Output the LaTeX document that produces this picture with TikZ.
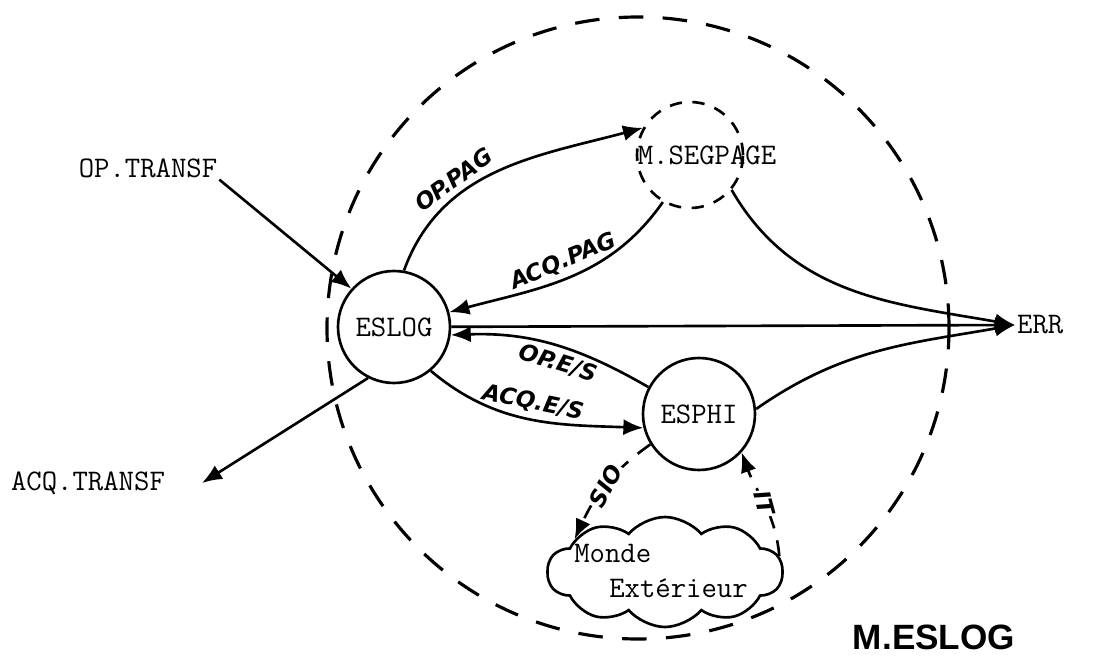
\documentclass[tikz,border=0pt]{standalone}
\usepackage{fontspec}
\newfontfamily\handfont{DejaVu Sans}
\newfontfamily\titlefont{Liberation Sans}
\newcommand{\typefont}{\ttfamily\fontsize{17}{19.5}\selectfont}
\usetikzlibrary{arrows.meta, shapes.symbols, positioning, calc}

\begin{document}
\begin{tikzpicture}[
    proc/.style={draw, circle, line width=1.5pt, minimum size=2.24cm, inner sep=0pt, font=\typefont},
    txt/.style={font=\typefont, inner sep=1pt},
    arrow/.style={-{Latex[length=4mm,width=3.2mm]}, line width=1.5pt},
    dasharrow/.style={arrow, dash pattern=on 9pt off 7pt},
    lbl/.style={font=\handfont\bfseries\itshape\fontsize{13}{15}\selectfont, inner sep=3pt}
]
    \useasboundingbox (0,0) rectangle (21.88,13.24);
    % module M.ESLOG
    \draw[line width=1.8pt, dash pattern=on 14pt off 11pt] (12.76,6.68) circle (6.22);
    \node[font=\titlefont\bfseries\fontsize{20}{23}\selectfont] (meslog) at (18.68,0.5) {M.ESLOG};

    \node[proc] (eslog) at (7.88,6.7) {ESLOG};
    \node[proc] (esphi) at (13.98,4.96) {ESPHI};
    \node[proc, minimum size=2.12cm, dash pattern=on 7pt off 6pt,
          label={[font=\typefont, xshift=0.34cm]center:M.SEGPAGE}] (segpage) at (13.8,10.14) {};
    \node[cloud, draw, line width=1.5pt, cloud puffs=10, cloud puff arc=100, cloud ignores aspect,
          minimum width=4.7cm, minimum height=2.2cm, inner sep=0pt,
          label={[font=\typefont, align=left, xshift=-0.08cm, yshift=0.02cm]center:Monde\\\hspace{0.7cm}Extérieur}]
          (monde) at (13.3,1.8) {};

    \node[txt] (optransf) at (2.96,9.88) {OP.TRANSF};
    \coordinate (acqtip) at (4.04,3.58);
    \node[txt, left=0.7cm of acqtip] (acqtransf) {ACQ.TRANSF};
    \node[txt, anchor=west] (err) at (20.3,6.74) {ERR};

    \draw[arrow] (optransf.south east) -- (eslog.138);
    \draw[arrow] (eslog.243) -- (acqtip);
    \draw[arrow] (eslog.80) to[out=70, in=195] node[lbl, sloped, above, pos=0.35] {OP.PAG} (segpage.150);
    \draw[arrow] (segpage.240) to[out=235, in=15] node[lbl, sloped, above, pos=0.5] {ACQ.PAG} (eslog.15);
    \draw[arrow] (eslog) -- (err.west);
    \draw[arrow] (segpage.320) to[out=-60, in=170] (err.west);
    \draw[arrow] (esphi.5) to[out=35, in=190] (err.west);
    \draw[arrow] (esphi.152) to[out=150, in=2] node[lbl, sloped, below, pos=0.45] {OP.E/S} (eslog.-8);
    \draw[arrow] (eslog.-50) to[out=-40, in=178] node[lbl, sloped, above] {ACQ.E/S} (esphi.194);
    % entrees/sorties physiques
    \draw[dasharrow] (esphi.212) to[out=215, in=65] node[lbl, rotate=62, fill=white, inner sep=1pt] {SIO} (monde.160);
    \draw[dasharrow] (monde.8) to[out=95, in=-70] node[lbl, rotate=-75, fill=white, inner sep=1pt] {IT} (esphi.-42);
\end{tikzpicture}
\end{document}
